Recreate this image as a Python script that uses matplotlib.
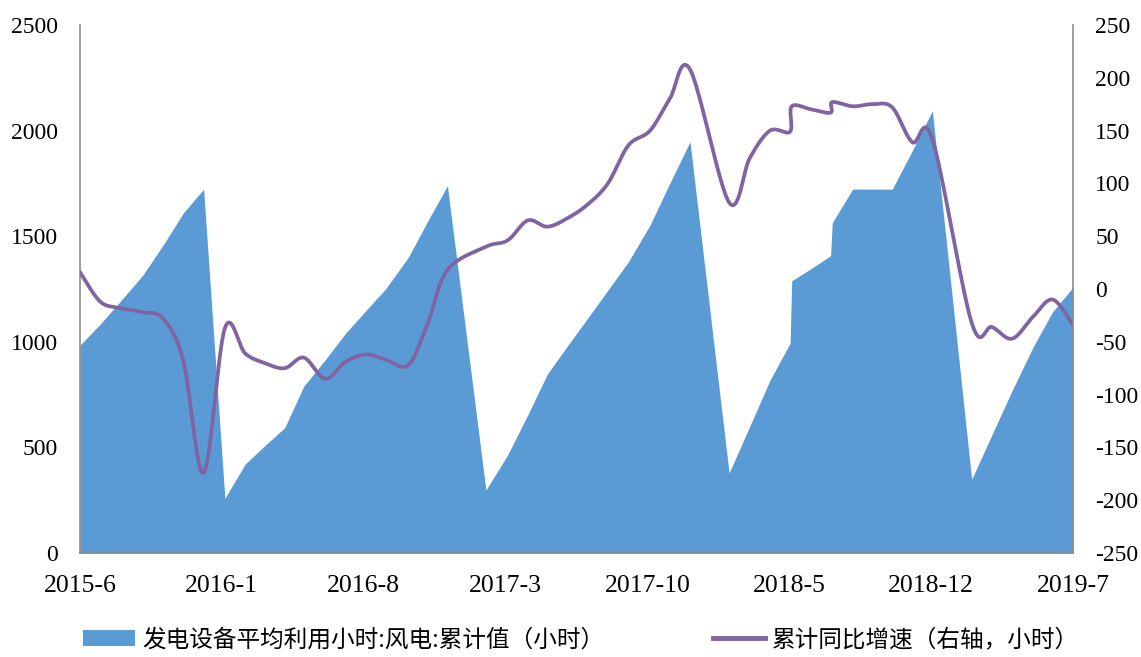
import numpy as np
import matplotlib
matplotlib.use('Agg')
import matplotlib.pyplot as plt
from matplotlib.patches import Patch
from matplotlib.lines import Line2D

plt.rcParams['axes.unicode_minus'] = False

# x = months after 2015-6 (some points fall between months)
months = [0, 1, 2, 3.1, 4.1, 5.1, 6.1,
          7.15, 8.15, 9.1, 10.1, 11.05, 12.1, 13.1, 14.1, 15.1, 16.2, 17.15, 18.13,
          20.03, 21.1, 22.1, 23.06, 24.05, 25.05, 26.05, 27.06, 28.13, 29.1, 30.1,
          32.03, 33.05, 34.05, 35.04, 35.12, 36.1, 37.04, 37.12, 38.13, 39.1, 40.08, 41.07, 42.06,
          44.0, 45.0, 46.0, 47.04, 48.0, 49.0]

# 发电设备平均利用小时:风电:累计值 (left axis)
hours = [984, 1084, 1193, 1316, 1458, 1610, 1723,
         259, 421, 507, 593, 791, 915, 1040, 1147, 1253, 1400, 1570, 1739,
         298, 464, 655, 847, 980, 1112, 1245, 1379, 1553, 1750, 1947,
         379, 600, 819, 993, 1289, 1348, 1408, 1564, 1723, 1723, 1723, 1905, 2094,
         349, 560, 770, 977, 1143, 1258]

# 累计同比增速 (right axis)
yoy = [16, -12, -18, -22, -28, -68, -174,
       -37, -61, -70, -75, -65, -85, -69, -62, -67, -72, -33, 18,
       40, 46, 65, 59, 67, 80, 100, 136, 150, 180, 208,
       82, 124, 150, 149, 173, 170, 167, 177, 173, 175, 172, 139, 142,
       -32, -36, -47, -26, -10, -34]

tick_pos = [0, 7, 14, 21, 28, 35, 42, 49]
tick_labels = ['2015-6', '2016-1', '2016-8', '2017-3', '2017-10', '2018-5', '2018-12', '2019-7']

AREA_COLOR = '#5B9BD5'
LINE_COLOR = '#8064A2'
SPINE_COLOR = '#8c8c8c'


def smooth(x, y, n=30):
    # Excel-like smoothed line: Catmull-Rom segments drawn as cubic Beziers
    p = np.column_stack([x, y]).astype(float)
    ext = np.vstack([p[0], p, p[-1]])
    out = [p[:1]]
    t = np.linspace(0, 1, n)[1:, None]
    for i in range(len(p) - 1):
        p0, p1, p2, p3 = ext[i], ext[i + 1], ext[i + 2], ext[i + 3]
        c1 = p1 + (p2 - p0) / 6
        c2 = p2 - (p3 - p1) / 6
        seg = ((1 - t) ** 3) * p1 + 3 * ((1 - t) ** 2) * t * c1 + 3 * (1 - t) * t ** 2 * c2 + t ** 3 * p2
        out.append(seg)
    out = np.vstack(out)
    return out[:, 0], out[:, 1]


fig = plt.figure(figsize=(11.41, 6.57), dpi=100)
ax = fig.add_axes([80 / 1141, 1 - 553 / 657, 993 / 1141, 528 / 657])

ax.fill_between(months, hours, 0, color=AREA_COLOR, lw=0)
ax.set_xlim(0, 49)
ax.set_ylim(0, 2500)
ax.set_yticks(np.arange(0, 2501, 500))
ax.set_xticks(tick_pos)
ax.set_xticklabels(tick_labels)

ax2 = ax.twinx()
sx, sy = smooth(months, yoy)
ax2.plot(sx, sy, color=LINE_COLOR, lw=2.7, solid_capstyle='round', solid_joinstyle='round')
ax2.set_ylim(-250, 250)
ax2.set_yticks(np.arange(-250, 251, 50))

for a in (ax, ax2):
    a.spines['top'].set_visible(False)
    for s in a.spines.values():
        s.set_color(SPINE_COLOR)
        s.set_linewidth(1.2)
ax.spines['right'].set_visible(False)
ax2.spines['left'].set_visible(False)
ax2.spines['bottom'].set_visible(False)

ax.tick_params(axis='y', length=0, pad=16, labelsize=17)
ax.tick_params(axis='x', length=0, pad=16, labelsize=18.5)
ax2.tick_params(axis='y', length=0, pad=16, labelsize=17)
for lab in ax.get_xticklabels() + ax.get_yticklabels() + ax2.get_yticklabels():
    lab.set_fontfamily('Liberation Serif')

handles = [Patch(facecolor=AREA_COLOR, edgecolor='none'),
           Line2D([0], [0], color=LINE_COLOR, lw=3.5)]
labels = ['发电设备平均利用小时:风电:累计值（小时）', '累计同比增速（右轴，小时）']
fig.legend(handles, labels, loc='center left', bbox_to_anchor=(62 / 1141, 1 - 640 / 657),
           ncol=2, frameon=False, handlelength=2.2, handleheight=0.68, handletextpad=0.3,
           columnspacing=4.6, prop={'family': ['Noto Sans CJK SC', 'DejaVu Sans'], 'size': 17})

fig.savefig('out.png', dpi=100)
